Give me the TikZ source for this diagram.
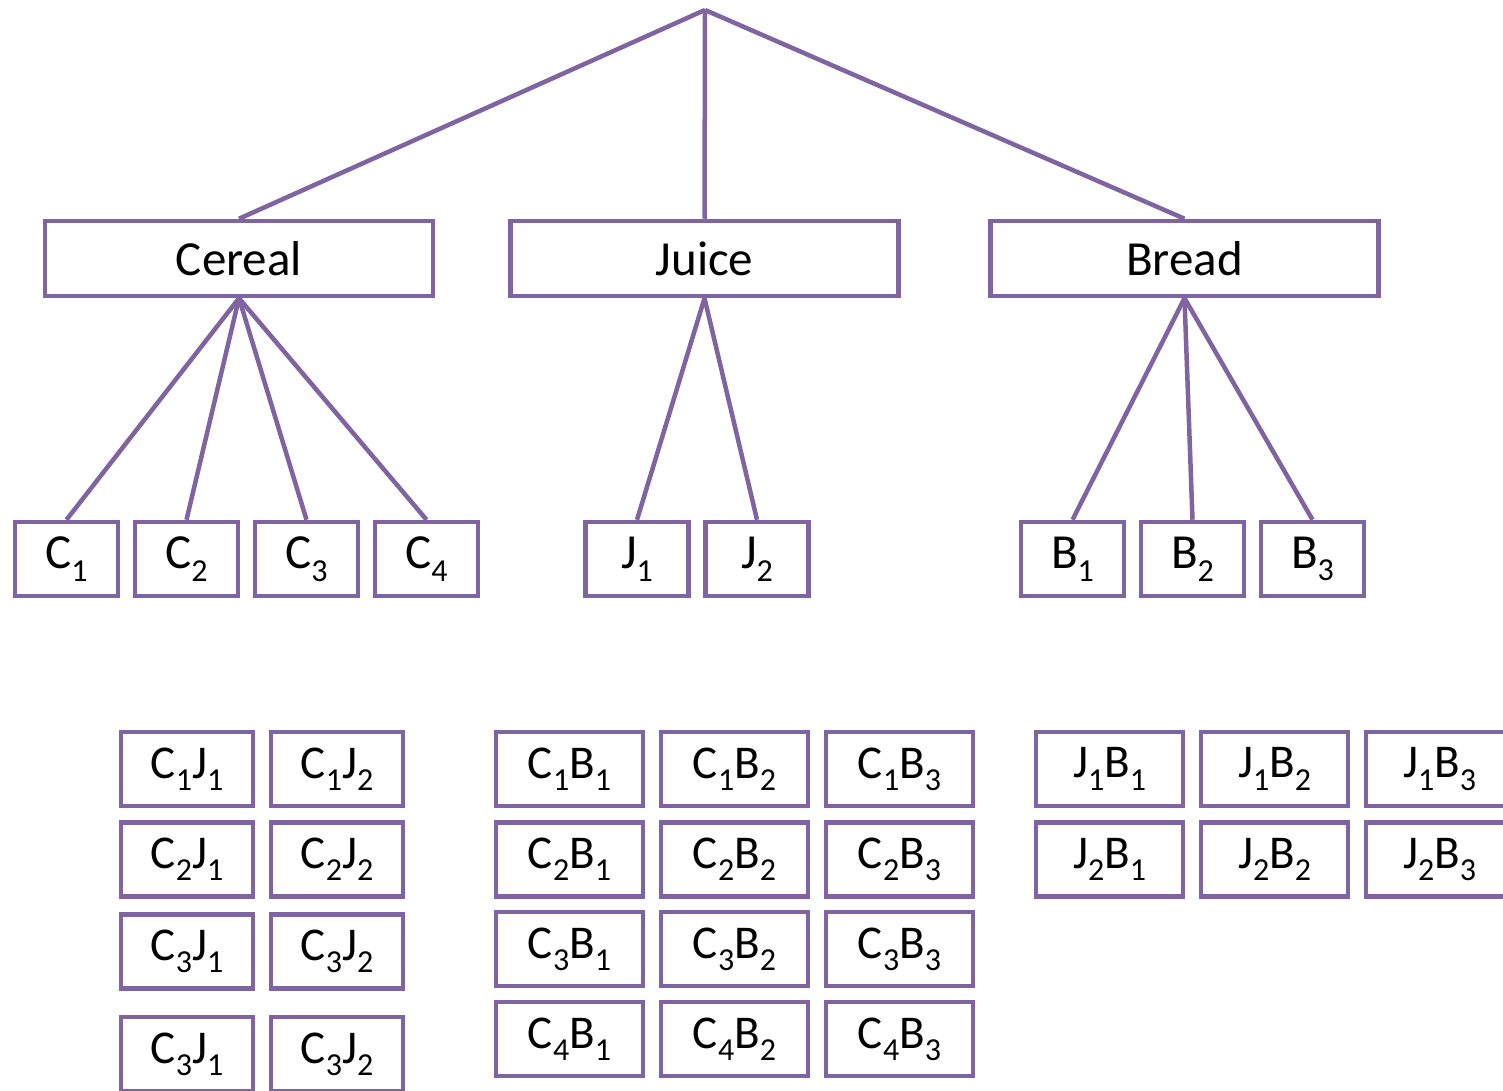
\documentclass[tikz,border=0pt]{standalone}
\usepackage{fontspec}
\setmainfont{Carlito}
\definecolor{purp}{HTML}{8064A2}
\newcommand\sbs[1]{\raisebox{-0.26em}{\fontsize{32}{32}\selectfont #1}}
\begin{document}
\begin{tikzpicture}[x=1pt,y=-1pt,
  box/.style={draw=purp, line width=4.5pt, fill=white, inner sep=0pt, text=black},
  big/.style={box, minimum width=388pt, minimum height=75pt, font=\fontsize{49}{58}\selectfont},
  leaf/.style={box, minimum width=103pt, minimum height=74pt, font=\fontsize{49}{58}\selectfont},
  pairA/.style={box, minimum width=132pt, minimum height=74pt, font=\fontsize{47}{56}\selectfont},
  pairB/.style={box, minimum width=147pt, minimum height=74pt, font=\fontsize{47}{56}\selectfont},
  link/.style={draw=purp, line width=4.5pt}]
\useasboundingbox (0,0) rectangle (1503,1091);
\clip (0,0) rectangle (1503,1091);
\fill[white] (0,0) rectangle (1503,1091);
\coordinate (root) at (705,10);
\node[big] (cereal) at (239,258.5) {Cereal};
\node[big] (juice) at (704.5,258.5) {Juice};
\node[big] (bread) at (1184.5,258.5) {Bread};
\draw[link] (root) -- (cereal.north);
\draw[link] (root) -- (juice.north);
\draw[link] (root) -- (bread.north);
% leaves
\node[leaf] (c1) at (66.5,559) {C\sbs{1}};
\node[leaf] (c2) at (186.5,559) {C\sbs{2}};
\node[leaf] (c3) at (306.5,559) {C\sbs{3}};
\node[leaf] (c4) at (426.5,559) {C\sbs{4}};
\node[leaf] (j1) at (637,559) {J\sbs{1}};
\node[leaf] (j2) at (757,559) {J\sbs{2}};
\node[leaf] (b1) at (1072.5,559) {B\sbs{1}};
\node[leaf] (b2) at (1192.5,559) {B\sbs{2}};
\node[leaf] (b3) at (1312.5,559) {B\sbs{3}};
\foreach \n in {c1,c2,c3,c4} \draw[link] (cereal.south) -- (\n.north);
\foreach \n in {j1,j2} \draw[link] (juice.south) -- (\n.north);
\foreach \n in {b1,b2,b3} \draw[link] (bread.south) -- (\n.north);
% C x J
\node[pairA] (c1j1) at (187,769) {C\sbs{1}J\sbs{1}};
\node[pairA] (c1j2) at (337,769) {C\sbs{1}J\sbs{2}};
\node[pairA] (c2j1) at (187,859.5) {C\sbs{2}J\sbs{1}};
\node[pairA] (c2j2) at (337,859.5) {C\sbs{2}J\sbs{2}};
\node[pairA] (c3j1) at (187,951.5) {C\sbs{3}J\sbs{1}};
\node[pairA] (c3j2) at (337,951.5) {C\sbs{3}J\sbs{2}};
\node[pairA] (c3j1b) at (187,1054) {C\sbs{3}J\sbs{1}};
\node[pairA] (c3j2b) at (337,1054) {C\sbs{3}J\sbs{2}};
% C x B
\node[pairB] (c1b1) at (569.5,769) {C\sbs{1}B\sbs{1}};
\node[pairB] (c1b2) at (734.5,769) {C\sbs{1}B\sbs{2}};
\node[pairB] (c1b3) at (899.5,769) {C\sbs{1}B\sbs{3}};
\node[pairB] (c2b1) at (569.5,859.5) {C\sbs{2}B\sbs{1}};
\node[pairB] (c2b2) at (734.5,859.5) {C\sbs{2}B\sbs{2}};
\node[pairB] (c2b3) at (899.5,859.5) {C\sbs{2}B\sbs{3}};
\node[pairB] (c3b1) at (569.5,949) {C\sbs{3}B\sbs{1}};
\node[pairB] (c3b2) at (734.5,949) {C\sbs{3}B\sbs{2}};
\node[pairB] (c3b3) at (899.5,949) {C\sbs{3}B\sbs{3}};
\node[pairB] (c4b1) at (569.5,1039) {C\sbs{4}B\sbs{1}};
\node[pairB] (c4b2) at (734.5,1039) {C\sbs{4}B\sbs{2}};
\node[pairB] (c4b3) at (899.5,1039) {C\sbs{4}B\sbs{3}};
% J x B
\node[pairB] (j1b1) at (1109.5,769) {J\sbs{1}B\sbs{1}};
\node[pairB] (j1b2) at (1274.5,769) {J\sbs{1}B\sbs{2}};
\node[pairB] (j1b3) at (1439.5,769) {J\sbs{1}B\sbs{3}};
\node[pairB] (j2b1) at (1109.5,859.5) {J\sbs{2}B\sbs{1}};
\node[pairB] (j2b2) at (1274.5,859.5) {J\sbs{2}B\sbs{2}};
\node[pairB] (j2b3) at (1439.5,859.5) {J\sbs{2}B\sbs{3}};
\end{tikzpicture}
\end{document}
